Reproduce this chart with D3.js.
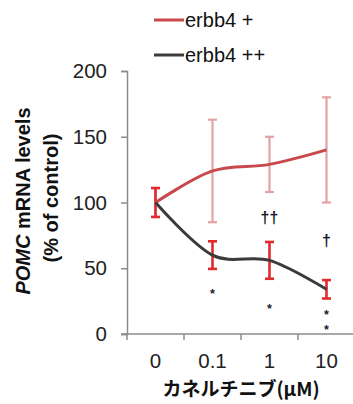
<!DOCTYPE html>
<html>
<head>
<meta charset="utf-8">
<script src="https://cdn.jsdelivr.net/npm/d3@7"></script>
<style>
  html, body { margin: 0; padding: 0; background: #fff; }
  svg { display: block; }
</style>
</head>
<body>
<div id="chart"></div>
<script>
// data
const doses = ['0', '0.1', '1', '10'];
const seriesNames = ['erbb4 +', 'erbb4 ++'];
const plusMean = [100, 124, 129, 140];
const plusErr = [11, 39, 21, 40];
const plusPlusMean = [100, 60, 56, 34];
const plusPlusErr = [11, 10.5, 14, 7];
const yTicks = [0, 50, 100, 150, 200];
// significance marks: text and the value levels where each is printed
const starMarks = [
  { dose: '0.1', levels: [33], text: '*' },
  { dose: '1', levels: [22], text: '*' },
  { dose: '10', levels: [17], text: '*' },
  { dose: '10', levels: [6], text: '*' }
];
const daggerMarks = [
  { dose: '1', levels: [89], text: '††' },
  { dose: '10', levels: [71.5], text: '†' }
];

const width = 353, height = 404;
const margin = { top: 71, right: 0, bottom: 70, left: 127 };

const svg = d3.select('#chart')
  .append('svg')
  .attr('width', width)
  .attr('height', height);

const x = d3.scaleBand()
  .domain(doses)
  .range([margin.left, 355]);

const y = d3.scaleLinear()
  .domain([0, 200])
  .range([height - margin.bottom, margin.top]);

const cx = d => x(d) + x.bandwidth() / 2;
const font = 'Liberation Sans, Arial, sans-serif';

// y axis
const yAxis = svg.append('g')
  .attr('transform', `translate(${margin.left},0)`)
  .call(d3.axisLeft(y).tickValues(yTicks).tickSize(6).tickPadding(14));
yAxis.select('.domain').attr('stroke', '#8c8c8c').attr('stroke-width', 1.5);
yAxis.selectAll('.tick line').attr('stroke', '#8c8c8c').attr('stroke-width', 1.5);
yAxis.selectAll('.tick text')
  .attr('font-family', font)
  .attr('font-size', '20.5px')
  .attr('fill', '#222');

// x axis: ticks sit between the categories
const xAxis = svg.append('g')
  .attr('transform', `translate(0,${y(0)})`);
xAxis.append('line')
  .attr('x1', margin.left - 6).attr('x2', width)
  .attr('stroke', '#8c8c8c').attr('stroke-width', 1.5);
xAxis.selectAll('line.tk')
  .data(doses.concat(['end']))
  .enter()
  .append('line')
    .attr('class', 'tk')
    .attr('x1', (d, i) => margin.left + i * x.bandwidth())
    .attr('x2', (d, i) => margin.left + i * x.bandwidth())
    .attr('y1', 0).attr('y2', 6)
    .attr('stroke', '#8c8c8c').attr('stroke-width', 1.5);
xAxis.selectAll('text')
  .data(doses)
  .enter()
  .append('text')
    .attr('x', d => cx(d))
    .attr('y', 34)
    .attr('text-anchor', 'middle')
    .attr('font-family', font)
    .attr('font-size', '20.5px')
    .attr('fill', '#222')
    .text(d => d);

// axis titles
const yTitle = svg.append('text')
  .attr('transform', 'translate(30,201) rotate(-90)')
  .attr('text-anchor', 'middle')
  .attr('font-family', font)
  .attr('font-weight', 'bold')
  .attr('font-size', '20px')
  .attr('fill', '#111');
yTitle.append('tspan').attr('font-style', 'italic').text('POMC');
yTitle.append('tspan').text(' mRNA levels');

svg.append('text')
  .attr('transform', 'translate(58,198) rotate(-90)')
  .attr('text-anchor', 'middle')
  .attr('font-family', font)
  .attr('font-weight', 'bold')
  .attr('font-size', '20px')
  .attr('fill', '#111')
  .text('(% of control)');

svg.append('text')
  .attr('x', 241)
  .attr('y', 396)
  .attr('text-anchor', 'middle')
  .attr('font-family', '"Noto Sans CJK JP", sans-serif')
  .attr('font-weight', 'bold')
  .attr('font-size', '19px')
  .attr('fill', '#111')
  .text('カネルチニブ(μM)');

// error bars
function errorBars(means, errs, color, w) {
  const g = svg.append('g').attr('stroke', color).attr('stroke-width', w);
  doses.forEach((d, i) => {
    const top = y(means[i] + errs[i]);
    const bot = y(means[i] - errs[i]);
    g.append('line').attr('x1', cx(d)).attr('x2', cx(d)).attr('y1', top).attr('y2', bot);
    g.append('line').attr('x1', cx(d) - 4.5).attr('x2', cx(d) + 4.5).attr('y1', top).attr('y2', top);
    g.append('line').attr('x1', cx(d) - 4.5).attr('x2', cx(d) + 4.5).attr('y1', bot).attr('y2', bot);
  });
}
errorBars(plusMean, plusErr, '#e3a3a4', 2.2);
errorBars(plusPlusMean, plusPlusErr, '#e02a2e', 2.6);

// lines
const line = d3.line()
  .x((v, i) => cx(doses[i]))
  .y(v => y(v))
  .curve(d3.curveCardinal);

svg.append('path')
  .attr('d', line(plusMean))
  .attr('fill', 'none')
  .attr('stroke', '#c8494b')
  .attr('stroke-width', 3);

svg.append('path')
  .attr('d', line(plusPlusMean))
  .attr('fill', 'none')
  .attr('stroke', '#3b3b3b')
  .attr('stroke-width', 3);

// significance marks
const marks = svg.append('g')
  .selectAll('text')
  .data(starMarks.concat(daggerMarks))
  .enter()
  .append('text')
    .attr('text-anchor', 'middle')
    .attr('font-family', font)
    .attr('font-weight', 'bold')
    .attr('font-size', d => d.text === '*' ? '12.5px' : '16px')
    .attr('fill', '#1a1a2a');
marks.each(function (d) {
  const t = d3.select(this);
  d.levels.forEach(lv => {
    t.append('tspan')
      .attr('x', cx(d.dose))
      .attr('y', y(lv))
      .attr('dy', d.text === '*' ? '0.62em' : '0.35em')
      .text(d.text);
  });
});

// legend
const legendColors = ['#c8494b', '#3b3b3b'];
const legend = svg.append('g');
seriesNames.forEach((name, i) => {
  const ly = 20 + i * 35;
  legend.append('line')
    .attr('x1', 154).attr('x2', 184)
    .attr('y1', ly).attr('y2', ly)
    .attr('stroke', legendColors[i])
    .attr('stroke-width', 3);
  legend.append('text')
    .attr('x', 185)
    .attr('y', ly + 7)
    .attr('font-family', font)
    .attr('font-size', '20px')
    .attr('fill', '#111')
    .text(name);
});
</script>
</body>
</html>
